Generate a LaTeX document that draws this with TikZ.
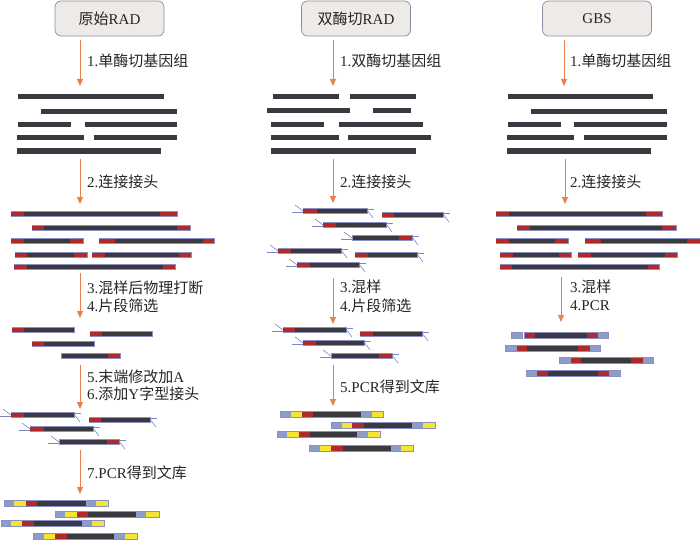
\documentclass[tikz,border=0pt]{standalone}
\usepackage{fontspec}
\setmainfont{Liberation Serif}
\newfontfamily\cjk{Noto Sans CJK SC}
\usetikzlibrary{arrows.meta}
\definecolor{barc}{HTML}{3A3940}
\definecolor{outc}{HTML}{8A90C4}
\definecolor{redc}{HTML}{B02A2A}
\definecolor{bluec}{HTML}{8E9CC8}
\definecolor{yelc}{HTML}{F4E534}
\definecolor{arrc}{HTML}{E8804A}
\definecolor{adc}{HTML}{7C86C4}
\definecolor{hdfill}{HTML}{EEEAE7}
\definecolor{hddraw}{HTML}{8C8CA4}
\newcommand\zh[1]{{\cjk #1}}
\newcommand\gb[3]{\fill[barc] (#1,#3-2.5) rectangle (#2,#3+2.5);}
\newcommand\ab[3]{\fill[barc,draw=outc,line width=0.5pt] (#1,#3-2.6) rectangle (#2,#3+2.6);}
\newcommand\rs[3]{\fill[redc] (#1,#3-2.4) rectangle (#2,#3+2.4);}
\newcommand\sg[4]{\fill[#1] (#2,#4-2.6) rectangle (#3,#4+2.6);}
\newcommand\ol[3]{\draw[outc,line width=0.6pt] (#1,#3-2.9) rectangle (#2,#3+2.9);}
\newcommand\lb[8]{\sg{bluec}{#2}{#3}{#1}\sg{yelc}{#3}{#4}{#1}\sg{redc}{#4}{#5}{#1}\sg{barc}{#5}{#6}{#1}\sg{bluec}{#6}{#7}{#1}\sg{yelc}{#7}{#8}{#1}\ol{#2}{#8}{#1}}
\newcommand\gp[7]{\sg{bluec}{#2}{#3}{#1}\sg{redc}{#3}{#4}{#1}\sg{barc}{#4}{#5}{#1}\sg{redc}{#5}{#6}{#1}\sg{bluec}{#6}{#7}{#1}\ol{#2}{#7}{#1}}
\newcommand\yl[2]{\draw[adap] (#1,#2+1.5) -- (#1-11,#2+1.5); \draw[adap] (#1,#2) -- (#1-8,#2-6);}
\newcommand\yr[2]{\draw[adap] (#1,#2-1.5) -- (#1+7,#2-1.5); \draw[adap] (#1,#2-1) -- (#1+6,#2+7);}
\begin{document}
\begin{tikzpicture}[x=1pt,y=-1pt,
  hdr/.style={draw=hddraw,fill=hdfill,rounded corners=6pt,line width=0.7pt,minimum width=109pt,minimum height=35pt,inner sep=0pt,font=\fontsize{15}{17}\selectfont,text=black!85},
  lbl/.style={anchor=west,inner sep=0pt,font=\fontsize{15}{17}\selectfont,text=black!85},
  flow/.style={draw=arrc,line width=1pt,-{Triangle[width=6pt,length=7pt]}},
  adap/.style={draw=adc,line width=0.6pt}]
\useasboundingbox (0,0) rectangle (700,540);
\fill[white] (0,0) rectangle (700,540);
% headers
\node[hdr] (h1) at (109.5,18.5) {\zh{原始}RAD};
\node[hdr] (h2) at (356,18.5) {\zh{双酶切}RAD};
\node[hdr] (h3) at (597,18.5) {GBS};
% arrow coordinates
\coordinate (a1s) at (80,40); \coordinate (a1e) at (80,86);
\coordinate (a2s) at (80,159); \coordinate (a2e) at (80,204);
\coordinate (a3s) at (80,273); \coordinate (a3e) at (80,318);
\coordinate (a4s) at (80,365); \coordinate (a4e) at (80,409);
\coordinate (a5s) at (80,450); \coordinate (a5e) at (80,494);
\coordinate (b1s) at (333,40); \coordinate (b1e) at (333,86);
\coordinate (b2s) at (333,159); \coordinate (b2e) at (333,203);
\coordinate (b3s) at (333,278); \coordinate (b3e) at (333,324);
\coordinate (b4s) at (333,365); \coordinate (b4e) at (333,406);
\coordinate (c1s) at (564,40); \coordinate (c1e) at (564,86);
\coordinate (c2s) at (565,159); \coordinate (c2e) at (565,204);
\coordinate (c3s) at (561,277); \coordinate (c3e) at (561,322);
\foreach \s/\e in {a1s/a1e,a2s/a2e,a3s/a3e,a4s/a4e,a5s/a5e,b1s/b1e,b2s/b2e,b3s/b3e,b4s/b4e,c1s/c1e,c2s/c2e,c3s/c3e}
  \draw[flow] (\s) -- (\e);
% labels column 1
\node[lbl] (l11) at (87,61) {1.\zh{单酶切基因组}};
\node[lbl] (l12) at (87,182) {2.\zh{连接接头}};
\node[lbl] (l13) at (87,288) {3.\zh{混样后物理打断}};
\node[lbl] (l14) at (87,306) {4.\zh{片段筛选}};
\node[lbl] (l15) at (87,377) {5.\zh{末端修改加}A};
\node[lbl] (l16) at (87,394) {6.\zh{添加}Y\zh{字型接头}};
\node[lbl] (l17) at (87,473) {7.PCR\zh{得到文库}};
% labels column 2
\node[lbl] (l21) at (340,61) {1.\zh{双酶切基因组}};
\node[lbl] (l22) at (340,182) {2.\zh{连接接头}};
\node[lbl] (l23) at (340,287) {3.\zh{混样}};
\node[lbl] (l24) at (340,306) {4.\zh{片段筛选}};
\node[lbl] (l25) at (340,387) {5.PCR\zh{得到文库}};
% labels column 3
\node[lbl] (l31) at (570,61) {1.\zh{单酶切基因组}};
\node[lbl] (l32) at (570,182) {2.\zh{连接接头}};
\node[lbl] (l33) at (570,287) {3.\zh{混样}};
\node[lbl] (l34) at (570,306) {4.PCR};
% ---------- column 1 ----------
\gb{18}{164}{97} \gb{41}{177}{112}
\gb{18}{71}{125} \gb{85}{177}{125}
\gb{17}{84}{138} \gb{94}{177}{138}
\gb{17}{161}{151}
\ab{11}{177}{214} \rs{11}{24}{214} \rs{160}{177}{214}
\ab{32}{190}{228} \rs{32}{44}{228} \rs{177}{190}{228}
\ab{11}{83}{241} \rs{11}{24}{241} \rs{70}{83}{241}
\ab{99}{214}{241} \rs{99}{115}{241} \rs{203}{214}{241}
\ab{15}{87}{255} \rs{15}{27}{255} \rs{74}{87}{255}
\ab{92}{191}{255} \rs{92}{105}{255} \rs{179}{191}{255}
\ab{14}{175}{267} \rs{14}{27}{267} \rs{163}{175}{267}
\ab{12}{74}{330} \rs{12}{24}{330}
\ab{90}{152}{334} \rs{90}{102}{334}
\ab{32}{94}{344} \rs{32}{44}{344}
\ab{61}{120}{356} \rs{108}{120}{356}
\ab{11}{74}{415} \rs{11}{24}{415} \yl{11}{415} \yr{74}{415}
\ab{89}{150}{420} \rs{89}{101}{420} \yr{150}{420}
\ab{30}{93}{429} \rs{30}{44}{429} \yl{30}{429} \yr{93}{429}
\ab{59}{119}{442} \rs{107}{119}{442} \yl{59}{442} \yr{119}{442}
\lb{503}{4}{14}{26}{37}{86}{96}{108}
\lb{514}{55}{65}{77}{88}{136}{146}{159}
\lb{523}{1}{11}{22}{34}{82}{92}{104}
\lb{536}{33}{44}{55}{67}{114}{125}{137}
% ---------- column 2 ----------
\gb{273}{339}{97} \gb{350}{416}{97}
\gb{267}{350}{111} \gb{373}{411}{111}
\gb{271}{324}{125} \gb{339}{423}{125}
\gb{271}{339}{138} \gb{348}{431}{138}
\gb{271}{416}{151}
\ab{303}{367}{211} \rs{303}{317}{211} \yl{303}{211} \yr{367}{211}
\ab{382}{443}{215} \rs{382}{394}{215} \yr{443}{215}
\ab{323}{386}{225} \rs{323}{336}{225} \yl{323}{225} \yr{386}{225}
\ab{352}{412}{238} \rs{399}{412}{238} \yl{352}{238} \yr{412}{238}
\ab{278}{341}{251} \rs{278}{291}{251} \yl{278}{251} \yr{341}{251}
\ab{355}{417}{255} \rs{355}{368}{255} \yr{417}{255}
\ab{297}{359}{265} \rs{297}{310}{265} \yl{297}{265} \yr{359}{265}
\ab{283}{346}{330} \rs{283}{295}{330} \yl{283}{330} \yr{346}{330}
\ab{360}{422}{334} \rs{360}{373}{334} \yr{422}{334}
\ab{303}{364}{343} \rs{303}{316}{343} \yl{303}{343} \yr{364}{343}
\ab{331}{392}{356} \rs{379}{392}{356} \yl{331}{356} \yr{392}{356}
\lb{414}{280}{291}{302}{313}{361}{372}{383}
\lb{425}{331}{342}{352}{364}{412}{423}{435}
\lb{434}{277}{287}{299}{310}{357}{368}{380}
\lb{448}{309}{320}{331}{343}{391}{401}{413}
% ---------- column 3 ----------
\gb{508}{653}{97} \gb{531}{667}{112}
\gb{508}{561}{125} \gb{574}{667}{125}
\gb{507}{574}{138} \gb{584}{667}{138}
\gb{507}{651}{151}
\ab{496}{662}{214} \rs{496}{509}{214} \rs{646}{662}{214}
\ab{517}{676}{228} \rs{517}{530}{228} \rs{662}{676}{228}
\ab{496}{568}{241} \rs{496}{509}{241} \rs{555}{568}{241}
\ab{585}{699.5}{241} \rs{585}{601}{241} \rs{687}{699.5}{241}
\ab{500}{571}{255} \rs{500}{513}{255} \rs{559}{571}{255}
\ab{578}{677}{255} \rs{578}{591}{255} \rs{665}{677}{255}
\ab{500}{659}{267} \rs{500}{512}{267} \rs{648}{659}{267}
\sg{bluec}{511}{522}{335} \ol{511}{522}{335}
\sg{redc}{524}{535}{335} \sg{barc}{535}{587}{335} \sg{redc}{587}{598}{335} \sg{bluec}{598}{608}{335} \ol{524}{608}{335}
\gp{348}{505}{517}{527}{578}{590}{600}
\gp{360}{559}{571}{581}{631}{643}{653}
\gp{373}{526}{537}{548}{598}{609}{620}
\end{tikzpicture}
\end{document}
